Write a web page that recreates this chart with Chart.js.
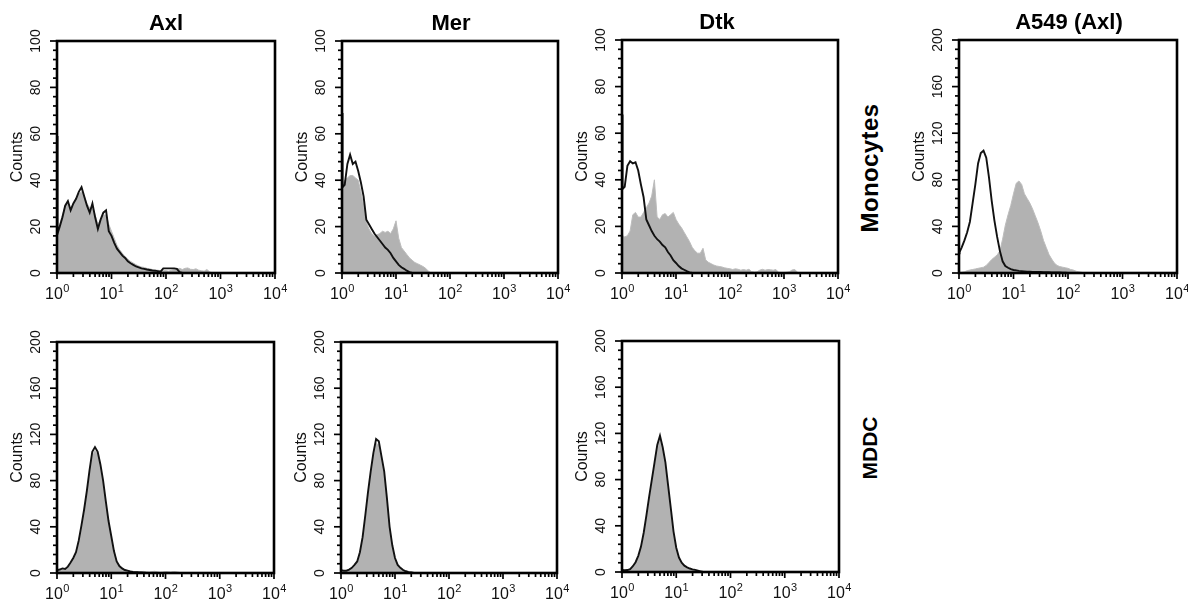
<!DOCTYPE html>
<html>
<head>
<meta charset="utf-8">
<title>Axl / Mer / Dtk expression</title>
<script src="https://cdn.jsdelivr.net/npm/chart.js@4.4.0/dist/chart.umd.min.js"></script>
<style>
  html, body { margin: 0; padding: 0; background: #fff; }
  #figure { position: relative; width: 1188px; height: 605px; overflow: hidden; background: #fff; }
  #figure canvas { position: absolute; }
  .row-label {
    position: absolute;
    font: bold 21px "Liberation Sans", Arial, sans-serif;
    color: #000;
    white-space: nowrap;
    transform: translate(-50%, -50%) rotate(-90deg);
  }
</style>
</head>
<body>
<div id="figure">
  <div class="row-label" style="left:870px; top:168px; font-size:24px; letter-spacing:0.4px;">Monocytes</div>
  <div class="row-label" style="left:870px; top:448px;">MDDC</div>
</div>
<script>
// Histogram bins, in decades of fluorescence (10^bin)
const binLog = [0, 0.01, 0.05, 0.1, 0.15, 0.2, 0.25, 0.3, 0.35, 0.4, 0.45, 0.5, 0.55, 0.6, 0.65, 0.7, 0.75, 0.8, 0.85, 0.9, 0.95,
  1, 1.05, 1.1, 1.15, 1.2, 1.25, 1.3, 1.35, 1.4, 1.45, 1.5, 1.55, 1.6, 1.65, 1.7, 1.75, 1.8, 1.85, 1.9, 1.95,
  2, 2.05, 2.1, 2.15, 2.2, 2.25, 2.3, 2.35, 2.4, 2.45, 2.5, 2.55, 2.6, 2.65, 2.7, 2.75, 2.8, 2.85, 2.9, 2.95,
  3, 3.05, 3.1, 3.15, 3.2, 3.25, 3.3, 3.35, 3.4, 3.45, 3.5, 3.55, 3.6, 3.65, 3.7, 3.75, 3.8, 3.85, 3.9, 3.95, 4];

// Tick labels
const decadeTicks = [0, 1, 2, 3, 4];
const countTicks100 = [0, 20, 40, 60, 80, 100];
const countTicks200 = [0, 40, 80, 120, 160, 200];

// Monocytes - black line (control) and grey fill (stain)
const axlMonoCtrl = [59, 17, 20, 24, 29, 31, 27, 30, 32, 35, 37, 33, 29, 26, 30, 24, 19, 23, 26, 27, 18, 16, 13, 10.5, 9, 7.5, 6.5, 5, 4.2, 3.5, 2.8, 2.4, 2, 1.8, 1.5, 1.3, 1.1, 1, 0.8, 0.6, 2, 2, 2, 2, 2, 1.8, 0.4, 0];
const axlMonoStain = [17, 18, 21, 25, 29, 30, 28, 30, 32, 34, 35, 33, 30, 28, 29, 25, 21, 23, 25, 25, 21, 18, 15, 12, 10, 8.5, 7, 6, 5, 4.3, 3.6, 3, 2.6, 2.4, 2, 1.8, 1.5, 1.3, 1.2, 1, 1, 1, 0.8, 1.2, 1.5, 1.8, 2, 1.5, 2, 2.2, 1.6, 1.5, 1.8, 1.2, 1, 0.8, 1.5, 0.5, 0];

const merMonoCtrl = [69, 37, 38, 47, 51, 47, 48, 44, 39, 33, 23, 21, 19, 17, 15.5, 14, 12.5, 11, 10, 8.5, 6.5, 5, 3.5, 2.5, 1.8, 1, 0.4, 0];
const merMonoStain = [37, 38, 40, 41, 42, 42, 41, 40, 35, 29, 22, 19, 17, 16, 16.5, 17, 18, 17.5, 18, 17, 19, 22.5, 15, 11, 9.5, 8, 6.5, 5.5, 4.5, 4, 3.4, 2.8, 2, 0.8, 0];

const dtkMonoCtrl = [68, 36, 37, 46, 48, 47, 47.5, 44, 38, 32.5, 23, 20.5, 18, 16, 14.5, 13.5, 12, 11, 9, 7.5, 5.5, 4.3, 3, 2, 1.4, 0.8, 0.3, 0];
const dtkMonoStain = [17, 16, 15.5, 16, 18, 25, 26, 24, 24, 26, 28, 30, 33, 40, 24, 23, 25, 25.5, 24, 25, 26, 23, 21, 19.5, 17.5, 15.5, 13.5, 11, 9.5, 8.5, 8.5, 10.6, 5.6, 4.6, 4, 3.4, 3, 2.8, 2.6, 2.2, 2, 1.8, 1.5, 1.8, 1.6, 1.2, 1.5, 1.2, 1.6, 0.6, 0.4, 0.5, 1.2, 1.6, 1.2, 1.5, 1.4, 1.2, 1.5, 0.3, 0.2, 0.2, 0.3, 0.5, 1.3, 1.5, 0.3, 0];

// A549 cells, Axl
const a549Ctrl = [17, 18, 22, 28, 35, 44, 60, 76, 94, 103, 105, 99, 82, 62, 45, 31, 19, 10, 6, 4.5, 3.3, 2.6, 2.2, 1.8, 1.6, 1.4, 1.2, 1.1, 1, 0.9, 0.8, 0.8, 0.7, 0.6, 0.6, 0.5, 0.5, 0.4, 0.4, 0.3, 0.3, 0];
const a549Stain = [0, 0, 0.5, 1, 2, 2.5, 3, 3.5, 4, 4.5, 5, 6.5, 9, 11.5, 13.5, 15.5, 19, 29, 41, 50, 58, 68, 77, 79, 76, 68, 64, 60, 55, 49, 43, 36, 28, 22, 16, 12, 8.5, 6.5, 5.5, 5, 4.5, 4, 3, 2.5, 1.5, 1, 0.6, 0];

// MDDC
const axlMddcCtrl = [2.5, 2.5, 3, 4, 3.5, 5.5, 9, 13, 18, 28, 41, 55, 71, 89, 105, 109, 105, 94, 80, 62, 45, 32, 19, 10, 6, 4, 2.6, 2, 1.3, 1, 0.8, 0.6, 0.5, 0.3, 0];
const axlMddcStain = [2, 2, 2.5, 3, 3, 5, 8, 12, 16.5, 26, 38, 52, 68, 86, 102, 106, 103, 92, 78, 60, 44, 31, 18.5, 10.5, 6.5, 4.5, 3, 2.2, 1.6, 1.4, 1.2, 1, 1.2, 1.4, 1, 0.8, 1.2, 1.5, 1, 0.6, 0.8, 1.2, 1, 0.8, 1.3, 1, 0.6, 0];

const merMddcCtrl = [2.5, 2.5, 2, 2, 3, 4.5, 7, 10, 18, 31, 50, 70, 88, 104, 116, 114, 101, 88, 65, 40, 24, 13, 7, 4.5, 2.6, 1.5, 0.8, 0.4, 0];
const merMddcStain = [2, 2, 1.5, 1.5, 2.5, 4, 6, 9, 16, 29, 48, 67, 85, 101, 112, 111, 99, 85, 63, 39, 23, 12.5, 7, 4.5, 3, 2, 1.5, 1, 0.5, 0];

const dtkMddcCtrl = [1.7, 1.7, 1.5, 1.7, 2.5, 5, 8.5, 14, 22, 34, 49, 65, 80, 95, 110, 118, 108, 95, 75, 55, 35, 21, 12.5, 8, 5.5, 4, 3, 2.3, 1.8, 1.2, 0.6, 0];
const dtkMddcStain = [1.2, 1.2, 1, 1.2, 2, 4.5, 8, 13, 21, 32, 47, 63, 78, 93, 107, 115, 105, 92, 72, 52, 33, 19.5, 11.5, 7, 5, 3.5, 2.5, 2, 1.5, 1, 0.5, 0];

// Layout of each panel (plot box in page pixels)
const panels = [
  { title: 'Axl', titleX: 166, l: 57, t: 41, r: 275, b: 273, yTicks: countTicks100, ctrl: axlMonoCtrl, stain: axlMonoStain },
  { title: 'Mer', titleX: 451, l: 342, t: 41, r: 558, b: 273, yTicks: countTicks100, ctrl: merMonoCtrl, stain: merMonoStain },
  { title: 'Dtk', titleX: 717, l: 622, t: 40, r: 838, b: 273, yTicks: countTicks100, ctrl: dtkMonoCtrl, stain: dtkMonoStain },
  { title: 'A549 (Axl)', titleX: 1069, l: 959, t: 40, r: 1177, b: 273, yTicks: countTicks200, ctrl: a549Ctrl, stain: a549Stain },
  { title: '', l: 57, t: 342, r: 274, b: 573, yTicks: countTicks200, ctrl: axlMddcCtrl, stain: axlMddcStain },
  { title: '', l: 341, t: 342, r: 557, b: 573, yTicks: countTicks200, ctrl: merMddcCtrl, stain: merMddcStain },
  { title: '', l: 622, t: 341, r: 839, b: 572, yTicks: countTicks200, ctrl: dtkMddcCtrl, stain: dtkMddcStain }
];

const FONT = '"Liberation Sans", Arial, Helvetica, sans-serif';
const PAD = { left: 62, top: 42, right: 14, bottom: 32 };

// Turn counts into {x, y} points on the log axis
function toPoints(counts) {
  return counts.map((c, i) => ({ x: Math.pow(10, binLog[i]), y: c }));
}

// Frame, ticks, tick labels and title, drawn from the chart's own scales
const facsAxes = {
  id: 'facsAxes',
  afterDatasetsDraw(chart, args, opts) {
    const ctx = chart.ctx;
    const area = chart.chartArea;
    const xs = chart.scales.x;
    const ys = chart.scales.y;
    const ticks = opts.yTicks;
    const major = ticks[1] - ticks[0];
    const minor = major / 5;
    ctx.save();
    ctx.strokeStyle = '#000';
    ctx.fillStyle = '#111';

    // y ticks
    ctx.lineWidth = 1.7;
    for (let v = 0; v <= ticks[ticks.length - 1] + 0.001; v += minor) {
      const py = ys.getPixelForValue(v);
      const isMajor = Math.abs(v / major - Math.round(v / major)) < 0.001;
      const len = isMajor ? 7 : 4;
      ctx.beginPath();
      ctx.moveTo(area.left, py);
      ctx.lineTo(area.left - len, py);
      ctx.stroke();
    }

    // x ticks (decades and 2..9 within each decade)
    for (let n = decadeTicks[0]; n < decadeTicks[decadeTicks.length - 1]; n++) {
      for (let k = 1; k <= 9; k++) {
        const px = xs.getPixelForValue(k * Math.pow(10, n));
        const len = k === 1 ? 6 : 4;
        ctx.beginPath();
        ctx.moveTo(px, area.bottom);
        ctx.lineTo(px, area.bottom + len);
        ctx.stroke();
      }
    }
    const lastX = xs.getPixelForValue(Math.pow(10, decadeTicks[decadeTicks.length - 1]));
    ctx.beginPath();
    ctx.moveTo(lastX, area.bottom);
    ctx.lineTo(lastX, area.bottom + 6);
    ctx.stroke();

    // frame
    ctx.lineWidth = 2.6;
    ctx.strokeRect(area.left, area.top, area.right - area.left, area.bottom - area.top);

    // y tick labels, rotated
    ctx.font = '14px ' + FONT;
    ctx.textAlign = 'center';
    ctx.textBaseline = 'middle';
    ticks.forEach(v => {
      const py = ys.getPixelForValue(v);
      ctx.save();
      ctx.translate(area.left - 21, py);
      ctx.rotate(-Math.PI / 2);
      ctx.fillText(String(v), 0, 0);
      ctx.restore();
    });

    // axis title
    ctx.save();
    ctx.font = '16px ' + FONT;
    ctx.translate(area.left - 39, (area.top + area.bottom) / 2);
    ctx.rotate(-Math.PI / 2);
    ctx.fillText('Counts', 0, 0);
    ctx.restore();

    // x tick labels: 10 with superscript exponent
    ctx.textAlign = 'left';
    ctx.textBaseline = 'alphabetic';
    decadeTicks.forEach(n => {
      const px = xs.getPixelForValue(Math.pow(10, n));
      ctx.font = '16px ' + FONT;
      const wBase = ctx.measureText('10').width;
      ctx.font = '11px ' + FONT;
      const wExp = ctx.measureText(String(n)).width;
      const x0 = px - (wBase + wExp) / 2;
      ctx.font = '16px ' + FONT;
      ctx.fillText('10', x0, area.bottom + 26);
      ctx.font = '11px ' + FONT;
      ctx.fillText(String(n), x0 + wBase + 0.5, area.bottom + 19);
    });

    // panel title
    if (opts.title) {
      ctx.fillStyle = '#000';
      ctx.font = 'bold 22px ' + FONT;
      ctx.textAlign = 'center';
      ctx.textBaseline = 'middle';
      ctx.fillText(opts.title, opts.titleX - chart.canvas.offsetLeft, area.top - 17);
    }
    ctx.restore();
  }
};

const figure = document.getElementById('figure');

function makePanel(p) {
  const canvas = document.createElement('canvas');
  const w = p.r - p.l + PAD.left + PAD.right;
  const h = p.b - p.t + PAD.top + PAD.bottom;
  canvas.width = w;
  canvas.height = h;
  canvas.style.width = w + 'px';
  canvas.style.height = h + 'px';
  canvas.style.left = (p.l - PAD.left) + 'px';
  canvas.style.top = (p.t - PAD.top) + 'px';
  figure.appendChild(canvas);

  return new Chart(canvas, {
    type: 'line',
    data: {
      datasets: [
        { data: toPoints(p.ctrl), borderColor: '#111', borderWidth: 1.9, fill: false, order: 0 },
        { data: toPoints(p.stain), borderColor: '#bcbcbc', backgroundColor: '#b2b2b2', borderWidth: 1, fill: 'origin', order: 1 }
      ]
    },
    options: {
      responsive: false,
      animation: false,
      events: [],
      devicePixelRatio: 1,
      layout: { padding: PAD },
      elements: { point: { radius: 0 }, line: { tension: 0 } },
      scales: {
        x: { type: 'logarithmic', min: 1, max: 10000, display: false },
        y: { type: 'linear', min: 0, max: p.yTicks[p.yTicks.length - 1], display: false }
      },
      plugins: {
        legend: { display: false },
        tooltip: { enabled: false },
        facsAxes: { yTicks: p.yTicks, title: p.title, titleX: p.titleX }
      }
    },
    plugins: [facsAxes]
  });
}

panels.forEach(makePanel);
</script>
</body>
</html>
